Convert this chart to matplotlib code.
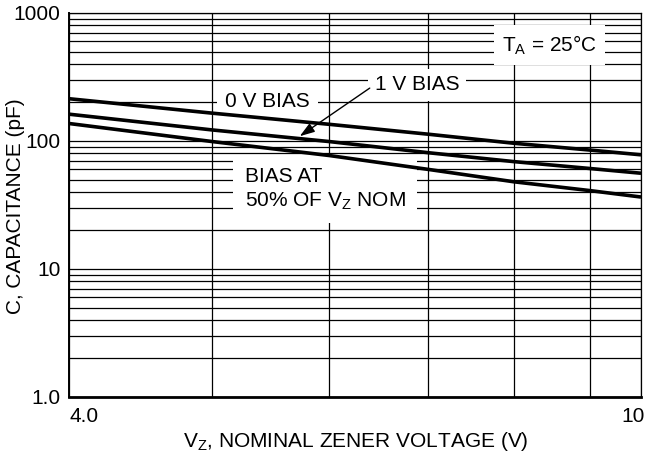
import numpy as np
import matplotlib.pyplot as plt
from matplotlib.ticker import LogLocator, NullFormatter
from matplotlib.transforms import ScaledTranslation

plt.rcParams['font.family'] = ['Liberation Sans', 'DejaVu Sans']
plt.rcParams['mathtext.fontset'] = 'custom'
plt.rcParams['mathtext.rm'] = 'Liberation Sans'
plt.rcParams['mathtext.it'] = 'Liberation Sans'

# data (log-log)
vz = [4.0, 5.0, 6.0, 7.0, 8.0, 9.0, 9.75]
cap_0v = [214, 165, 135, 113, 96, 85, 78]
cap_1v = [162, 122, 99, 81, 69, 61, 56]
cap_half = [137, 99, 77, 60, 48, 41, 36.5]

x_min, x_max = 4.0, 9.75
x_ticks = [4.0, 9.75]
x_tick_labels = ['4.0', '10']
y_ticks = [1, 10, 100, 1000]
y_tick_labels = ['1.0', '10', '100', '1000']

fs = 15

fig = plt.figure(figsize=(6.45, 4.57), dpi=100)
ax = fig.add_axes([69/645, 1 - 397/457, 572/645, 384/457])
ax.set_xscale('log')
ax.set_yscale('log')
ax.set_xlim(x_min, x_max)
ax.set_ylim(1, 1000)

# grid
ax.set_axisbelow(True)
ax.xaxis.set_minor_locator(plt.FixedLocator([5, 6, 7, 8, 9]))
ax.xaxis.set_minor_formatter(NullFormatter())
ax.yaxis.set_minor_locator(LogLocator(base=10, subs=np.arange(2, 10)))
ax.yaxis.set_minor_formatter(NullFormatter())
ax.grid(which='both', color='black', linewidth=0.9, zorder=0)

ax.set_xticks(x_ticks)
ax.set_xticklabels(x_tick_labels)
ax.set_yticks(y_ticks)
ax.set_yticklabels(y_tick_labels)
ax.tick_params(which='both', length=0, labelsize=fs)
ax.tick_params(axis='x', pad=7)
ax.tick_params(axis='y', pad=6)
lbls = ax.get_xticklabels()
lbls[0].set_ha('left')
lbls[1].set_ha('right')
lbls[1].set_transform(lbls[1].get_transform() + ScaledTranslation(4/100, 0, fig.dpi_scale_trans))

for s in ax.spines.values():
    s.set_linewidth(0.9)
ax.spines['bottom'].set_linewidth(2.0)
ax.spines['left'].set_linewidth(1.4)

# curves
for c in (cap_0v, cap_1v, cap_half):
    ax.plot(vz, c, color='black', linewidth=2.6, zorder=4, solid_capstyle='butt')

ax.text(5.10, 202, '0 V BIAS', fontsize=fs, ha='left', va='center', zorder=3,
        bbox=dict(boxstyle='square,pad=0.4', facecolor='white', edgecolor='none'))
ax.text(6.44, 274, '1 V BIAS', fontsize=fs, ha='left', va='center', zorder=3,
        bbox=dict(boxstyle='square,pad=0.3', facecolor='white', edgecolor='none'))
ax.text(7.85, 560, r'T$_\mathregular{A}$ = 25°C', fontsize=fs, ha='left', va='center', zorder=3,
        bbox=dict(boxstyle='square,pad=0.4', facecolor='white', edgecolor='none'))
ax.text(5.26, 42, 'BIAS AT\n50% OF V$_\\mathregular{Z}$ NOM', fontsize=fs, ha='left',
        va='center', linespacing=1.3, zorder=3,
        bbox=dict(boxstyle='square,pad=0.55', facecolor='white', edgecolor='none'))

ax.annotate('', xy=(5.73, 109), xytext=(6.39, 259), zorder=5,
            arrowprops=dict(arrowstyle='-|>,head_length=0.9,head_width=0.3',
                            color='black', linewidth=1.0, shrinkA=0, shrinkB=0))

ax.set_xlabel('V$_\\mathregular{Z}$, NOMINAL ZENER VOLTAGE (V)', fontsize=fs)
ax.set_ylabel('C, CAPACITANCE (pF)', fontsize=fs)
ax.xaxis.set_label_coords(0.502, -0.085)
ax.yaxis.set_label_coords(-0.077, 0.497)

fig.savefig('out.png', dpi=100)
